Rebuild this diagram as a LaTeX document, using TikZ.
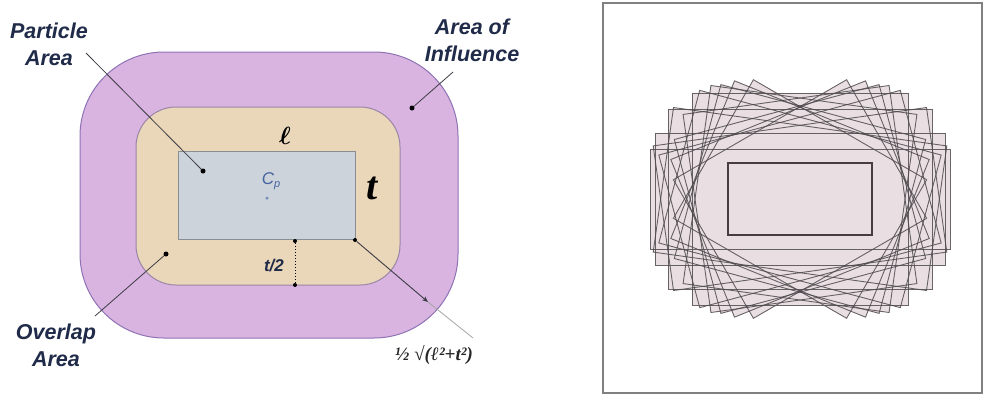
\documentclass[tikz,border=0pt]{standalone}
\usepackage{bm}
\usepackage{fontspec}
\setmainfont{Liberation Sans}
\newfontfamily\serifb{Liberation Serif}
\usetikzlibrary{arrows.meta}
\definecolor{infl}{HTML}{D9B4E1}
\definecolor{inflb}{HTML}{8E72B4}
\definecolor{ovl}{HTML}{EAD6B8}
\definecolor{ovlb}{HTML}{9A86A8}
\definecolor{part}{HTML}{CDD3DB}
\definecolor{partb}{HTML}{8A8D92}
\definecolor{lbl}{HTML}{1F2B48}
\definecolor{cpc}{HTML}{4564A0}
\definecolor{rfill}{HTML}{E9DFE3}
\definecolor{rline}{HTML}{4F4A4D}
\definecolor{rin}{HTML}{4A3B42}
\definecolor{leader}{HTML}{3C3C44}
\begin{document}
\begin{tikzpicture}[x=1pt,y=-1pt,
  callout/.style={text=lbl,align=center,font=\fontsize{21.5}{27}\selectfont\bfseries\itshape},
  leaderline/.style={draw=leader,line width=0.8pt},
  blob/.style={fill=black,circle,inner sep=0pt,minimum size=5pt},
  rotrect/.style={draw=rline,line width=0.9pt,draw opacity=0.85}]
\useasboundingbox (0,0) rectangle (984,394);
% ---------- left panel ----------
\filldraw[fill=infl,draw=inflb,line width=1pt,rounded corners=84pt] (80,52) rectangle (458,338);
\filldraw[fill=ovl,draw=ovlb,line width=1pt,rounded corners=40pt] (136,107) rectangle (400,285);
\filldraw[fill=part,draw=partb,line width=1pt] (178,151) rectangle (355,239);
\node[font=\fontsize{30}{30}\selectfont] (ell) at (285,136) {$\bm{\ell}$};
\node[font=\fontsize{40}{40}\selectfont\serifb\bfseries\itshape] (tt) at (372,188) {t};
\node[text=cpc,font=\fontsize{17}{17}\selectfont\itshape] (cp) at (271,181) {C\raisebox{-3pt}{\fontsize{11}{11}\selectfont p}};
\node[fill=cpc!70,circle,inner sep=0pt,minimum size=3.5pt] (cpdot) at (267,198) {};
% labels
\node[callout] (pa) at (49,44) {Particle\\Area};
\node[callout] (ai) at (472,40) {Area of\\Influence};
\node[callout] (oa) at (56,345) {Overlap\\Area};
\node[text=lbl,font=\fontsize{17}{17}\selectfont\bfseries\itshape] (half) at (274,266) {t/2};
\node[text=black!85,font=\fontsize{19}{19}\selectfont\serifb\bfseries\itshape] (diag) at (434,355) {½ √(ℓ²+t²)};
% dots
\node[blob] (pdot) at (203,171) {};
\node[blob] (odot) at (166,254) {};
\node[blob] (idot) at (412,108) {};
\node[blob,minimum size=4pt] (cdot) at (355,240) {};
\node[blob,minimum size=4pt] (hdot1) at (295,241) {};
\node[blob,minimum size=4pt] (hdot2) at (295,285) {};
\coordinate (pend) at (86,53);
\coordinate (oend) at (95,316);
\coordinate (iend) at (453,72);
\coordinate (cend) at (428,302);
\coordinate (gend) at (473,338);
% leaders
\draw[leaderline] (pend) -- (pdot);
\draw[leaderline] (oend) -- (odot);
\draw[leaderline] (iend) -- (idot);
\draw[draw=leader,line width=0.9pt,-{Stealth[length=6pt,width=5pt]}] (cdot) -- (cend);
\draw[draw=black!35,line width=0.8pt] (cend) -- (gend);
\draw[draw=black,line width=1pt,dotted] (hdot1) -- (hdot2);
% ---------- right panel ----------
\draw[draw=black!50,line width=1.4pt] (603,3) rectangle (982,393);
\begin{scope}[shift={(800,199)}]
\def\rectlist{0/145/66,0/150/50,0/108/106,0/132/90,8/138/73,-8/138/73,8/104/100,-8/104/100,15/125/79,-15/125/79,15/106/90,-15/106/90,22/105/85,-22/105/85,30/100/80,-30/100/80}
\foreach \ang/\a/\b in \rectlist
  \fill[rfill,rotate=\ang] (-\a,-\b) rectangle (\a,\b);
\foreach \ang/\a/\b in \rectlist
  \draw[rotrect,rotate=\ang] (-\a,-\b) rectangle (\a,\b);
\filldraw[fill=rfill,draw=rin,line width=1.5pt] (-72,-36) rectangle (72,36);
\end{scope}
\end{tikzpicture}
\end{document}
